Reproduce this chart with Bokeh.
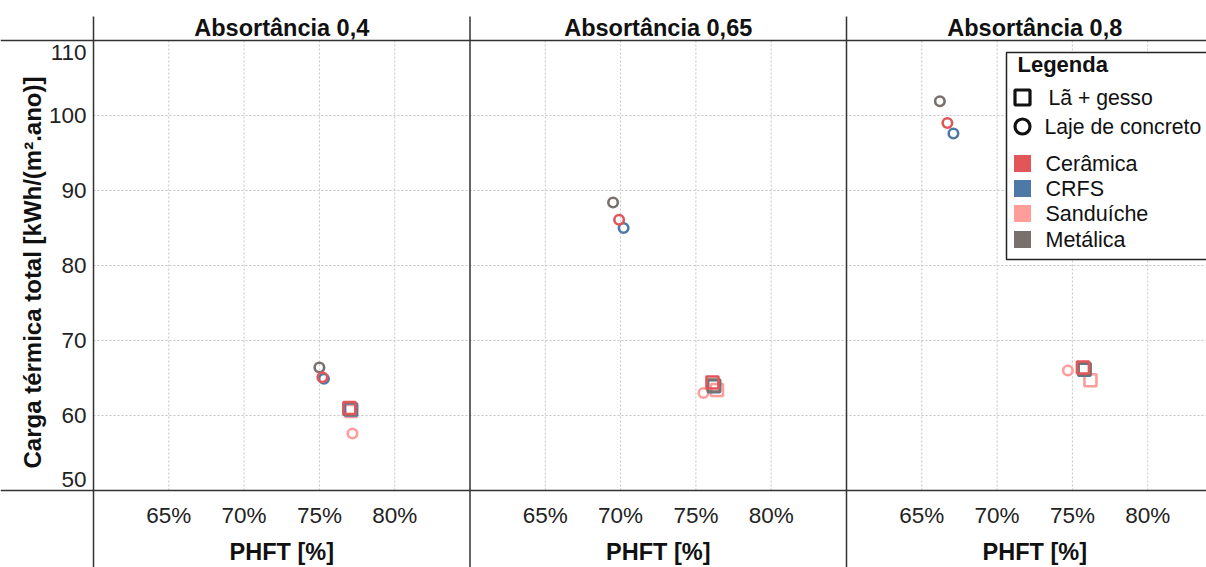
import math
from bokeh.plotting import figure
from bokeh.models import Range1d, ColumnDataSource
from bokeh.embed import file_html
from bokeh.resources import INLINE
from bokeh.core.properties import value

# ---------------- data ----------------
panels = ["Absortância 0,4", "Absortância 0,65", "Absortância 0,8"]
materials = ["Cerâmica", "CRFS", "Sanduíche", "Metálica"]
material_colors = ["#E15759", "#4E79A7", "#FF9D9A", "#79706E"]
systems = ["Lã + gesso", "Laje de concreto"]
system_markers = ["square", "circle"]

# PHFT [%] and Carga térmica total [kWh/(m².ano)], order = materials
la_phft_04 = [77.0, 77.1, 77.1, 77.0]
la_carga_04 = [61.0, 60.8, 60.6, 60.9]
laje_phft_04 = [75.2, 75.3, 77.2, 75.0]
laje_carga_04 = [65.1, 64.9, 57.6, 66.4]

la_phft_065 = [76.1, 76.2, 76.4, 76.2]
la_carga_065 = [64.4, 63.9, 63.4, 64.0]
laje_phft_065 = [69.9, 70.2, 75.5, 69.5]
laje_carga_065 = [86.1, 85.0, 63.0, 88.4]

la_phft_08 = [75.7, 75.8, 76.2, 75.8]
la_carga_08 = [66.4, 66.1, 64.7, 66.2]
laje_phft_08 = [66.7, 67.1, 74.7, 66.2]
laje_carga_08 = [99.0, 97.6, 66.0, 101.9]

x_ticks = [65, 70, 75, 80]
x_tick_labels = ["65%", "70%", "75%", "80%"]
y_ticks = [50, 60, 70, 80, 90, 100, 110]
y_tick_labels = ["50", "60", "70", "80", "90", "100", "110"]
x_domain = (60, 85)
y_domain = (50, 110)

# ---------------- layout (pixels) ----------------
FIG_W, FIG_H = 1206, 567
PLOT_LEFT = 93
PLOT_TOP = 40
PLOT_BOTTOM = 490
PANEL_W = 376.5
SPAN_X = x_domain[1] - x_domain[0]
px_per_x = PANEL_W / SPAN_X
px_per_y = (PLOT_BOTTOM - PLOT_TOP) / (y_domain[1] - y_domain[0])
X_LEFT = x_domain[0] - PLOT_LEFT / px_per_x
X_RIGHT = X_LEFT + FIG_W / px_per_x
Y_TOP = y_domain[1] + PLOT_TOP / px_per_y
Y_BOTTOM = Y_TOP - FIG_H / px_per_y


def fx(px):
    return X_LEFT + px / px_per_x


def fy(py):
    return Y_TOP - py / px_per_y


FONT = value("Liberation Sans")
LINE_C = "#333333"
TEXT_C = "#222222"

p = figure(width=FIG_W, height=FIG_H,
           x_range=Range1d(X_LEFT, X_RIGHT), y_range=Range1d(Y_BOTTOM, Y_TOP),
           x_axis_type=None, y_axis_type=None,
           output_backend="svg", toolbar_location=None,
           min_border=0, min_border_left=0, min_border_right=0,
           min_border_top=0, min_border_bottom=0)
p.outline_line_color = None
p.background_fill_color = "white"
p.border_fill_color = "white"

offsets = [k * SPAN_X for k in range(len(panels))]
centers = [off + (x_domain[0] + x_domain[1]) / 2 for off in offsets]

# grid lines (dashed)
gx0, gy0, gx1, gy1 = [], [], [], []
for off in offsets:
    for t in x_ticks:
        gx0.append(off + t); gx1.append(off + t)
        gy0.append(y_domain[0]); gy1.append(y_domain[1])
for t in y_ticks[1:-1]:
    gx0.append(x_domain[0]); gx1.append(X_RIGHT)
    gy0.append(t); gy1.append(t)
p.segment(x0=gx0, y0=gy0, x1=gx1, y1=gy1, line_color="#c4c4c4",
          line_width=1, line_dash="2 2")

# frame lines
p.segment(x0=[X_LEFT, X_LEFT], y0=[y_domain[1], y_domain[0]],
          x1=[X_RIGHT, X_RIGHT], y1=[y_domain[1], y_domain[0]],
          line_color=LINE_C, line_width=1.5)
vx = [off + x_domain[0] for off in offsets]
p.segment(x0=vx, y0=[fy(16)] * len(vx), x1=vx, y1=[Y_BOTTOM] * len(vx),
          line_color=LINE_C, line_width=1.5)

# headers
p.text(x=centers, y=[fy(27)] * len(panels), text=panels,
       text_font=FONT, text_font_size="23.5px", text_font_style="bold",
       text_align="center", text_baseline="middle", text_color="#111111")

# x tick labels
xl_x, xl_t = [], []
for off in offsets:
    for t, lab in zip(x_ticks, x_tick_labels):
        xl_x.append(off + t); xl_t.append(lab)
p.text(x=xl_x, y=[y_domain[0]] * len(xl_x), text=xl_t, y_offset=25,
       text_font=FONT, text_font_size="22.5px", text_align="center",
       text_baseline="middle", text_color=TEXT_C)

# x titles
p.text(x=centers, y=[y_domain[0]] * len(panels), text=["PHFT [%]"] * len(panels),
       y_offset=61, text_font=FONT, text_font_size="23.5px",
       text_font_style="bold", text_align="center", text_baseline="middle",
       text_color="#111111")

# y tick labels
y_off = [12 if t == y_domain[1] else (-11 if t == y_domain[0] else 0) for t in y_ticks]
p.text(x=[x_domain[0]] * len(y_ticks), y=y_ticks, text=y_tick_labels,
       x_offset=-7, y_offset=y_off, text_font=FONT, text_font_size="22.5px",
       text_align="right", text_baseline="middle", text_color=TEXT_C)

# y title
p.text(x=[fx(32)], y=[fy(272)],
       text=["Carga térmica total [kWh/(m².ano)]"], angle=math.pi / 2,
       text_font=FONT, text_font_size="24px", text_font_style="bold",
       text_align="center", text_baseline="middle", text_color="#111111")

# ---------------- marks ----------------
series = [
    (0, la_phft_04, la_carga_04, laje_phft_04, laje_carga_04),
    (1, la_phft_065, la_carga_065, laje_phft_065, laje_carga_065),
    (2, la_phft_08, la_carga_08, laje_phft_08, laje_carga_08),
]
draw_order = [2, 1, 3, 0]  # Sanduíche, CRFS, Metálica, Cerâmica
xs, ys, cols, marks, sizes = [], [], [], [], []
for k, lpx, lpy, cpx, cpy in series:
    for m in draw_order:
        # Laje de concreto (circle)
        xs.append(offsets[k] + cpx[m]); ys.append(cpy[m])
        cols.append(material_colors[m]); marks.append(system_markers[1]); sizes.append(9.5)
    for m in draw_order:
        # Lã + gesso (square)
        xs.append(offsets[k] + lpx[m]); ys.append(lpy[m])
        cols.append(material_colors[m]); marks.append(system_markers[0]); sizes.append(12)
src = ColumnDataSource(dict(x=xs, y=ys, color=cols, marker=marks, size=sizes))
p.scatter(x="x", y="y", marker="marker", size="size", source=src,
          line_color="color", fill_color=None, line_width=2.6)

# ---------------- legend ----------------
p.quad(left=[fx(1006)], right=[X_RIGHT + 5], top=[fy(52)], bottom=[fy(259)],
       fill_color="white", line_color="#222222", line_width=1.5)
p.text(x=[fx(1017)], y=[fy(64)], text=["Legenda"], text_font=FONT,
       text_font_size="22px", text_font_style="bold", text_align="left",
       text_baseline="middle", text_color="#111111")
sys_y = [fy(97), fy(126)]
p.scatter(x=[fx(1022)] * 2, y=sys_y, marker=system_markers, size=[15, 15],
          line_color="#111111", fill_color=None, line_width=3.2)
p.text(x=[fx(1048), fx(1044)], y=sys_y, text=systems, text_font=FONT,
       text_font_size="21.2px", text_align="left", text_baseline="middle",
       text_color="#111111")
mat_y = [fy(163), fy(188), fy(213), fy(239)]
p.scatter(x=[fx(1022)] * 4, y=mat_y, marker="square", size=17,
          fill_color=material_colors, line_color=None)
p.text(x=[fx(1045)] * 4, y=mat_y, text=materials, text_font=FONT,
       text_font_size="21.5px", text_align="left", text_baseline="middle",
       text_color="#111111")

open("out.html", "w").write(file_html(p, INLINE))
